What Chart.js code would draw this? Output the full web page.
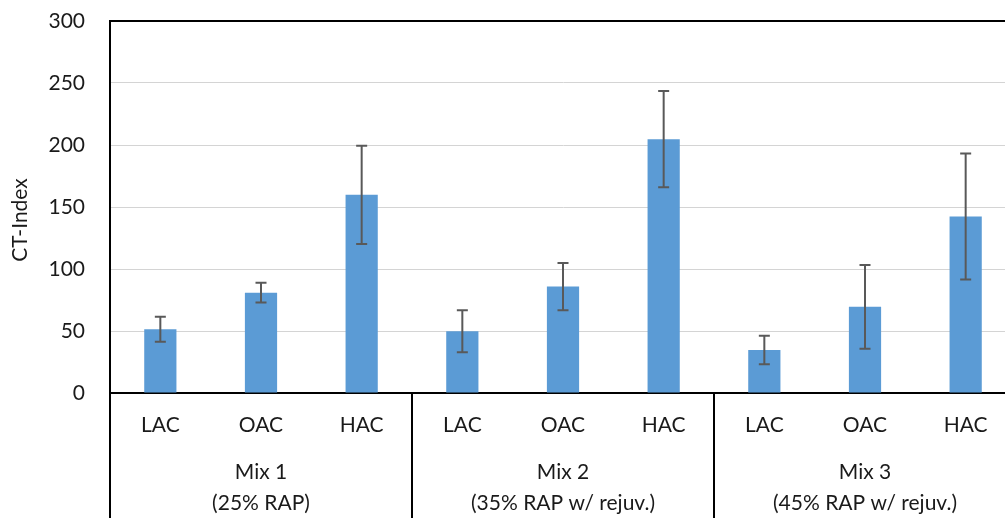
<!DOCTYPE html>
<html>
<head>
<meta charset="utf-8">
<script src="https://cdn.jsdelivr.net/npm/chart.js@4/dist/chart.umd.min.js"></script>
<style>
  html, body { margin: 0; padding: 0; background: #fff; overflow: hidden; }
  #wrap { position: relative; width: 1020px; height: 518px; }
</style>
</head>
<body>
<div id="wrap"><canvas id="ct"></canvas></div>
<script>
// CT-Index per mix / aging level
const mixes = ['LAC', 'OAC', 'HAC', 'LAC', 'OAC', 'HAC', 'LAC', 'OAC', 'HAC'];
const groupLabels = [['Mix 1', '(25% RAP)'], ['Mix 2', '(35% RAP w/ rejuv.)'], ['Mix 3', '(45% RAP w/ rejuv.)']];
const ctIndex = [51.4, 80.9, 159.8, 49.8, 85.8, 204.7, 34.6, 69.5, 142.4];
const ctError = [10, 8, 39.6, 17, 19, 38.8, 11.5, 33.8, 50.8];
const yTicks = [0, 50, 100, 150, 200, 250, 300];

const FONT = 'Lato, "Open Sans", sans-serif';
const TEXT = '#1a1a1a';

// error bars (mean +/- error) drawn through the y scale
const errorBars = {
    id: 'errorBars',
    afterDatasetsDraw(chart) {
        const { ctx, scales: { x, y } } = chart;
        ctx.save();
        ctx.strokeStyle = '#595959';
        ctx.lineWidth = 2;
        ctIndex.forEach((v, i) => {
            const cx = x.getPixelForValue(i);
            const top = y.getPixelForValue(v + ctError[i]);
            const bot = y.getPixelForValue(v - ctError[i]);
            ctx.beginPath();
            ctx.moveTo(cx, top); ctx.lineTo(cx, bot);
            ctx.moveTo(cx - 5.5, top); ctx.lineTo(cx + 5.5, top);
            ctx.moveTo(cx - 5.5, bot); ctx.lineTo(cx + 5.5, bot);
            ctx.stroke();
        });
        ctx.restore();
    }
};

// second category row (mix groups), its dividers and the y title
const groupAxis = {
    id: 'groupAxis',
    afterDraw(chart) {
        const { ctx, chartArea, scales: { x } } = chart;
        const bottom = chart.height;
        ctx.save();
        ctx.strokeStyle = '#000';
        ctx.lineWidth = 2;
        ctx.beginPath();
        ctx.moveTo(chartArea.left, chartArea.bottom);
        ctx.lineTo(chartArea.left, bottom);
        for (let g = 1; g < groupLabels.length; g++) {
            const sx = (x.getPixelForValue(g * 3 - 1) + x.getPixelForValue(g * 3)) / 2;
            ctx.moveTo(sx, chartArea.bottom);
            ctx.lineTo(sx, bottom);
        }
        ctx.stroke();

        ctx.fillStyle = TEXT;
        ctx.font = '21px ' + FONT;
        ctx.textAlign = 'center';
        ctx.textBaseline = 'middle';
        groupLabels.forEach((lines, g) => {
            const gx = x.getPixelForValue(g * 3 + 1);
            lines.forEach((t, k) => ctx.fillText(t, gx, 472 + k * 31));
        });

        ctx.translate(20, 220);
        ctx.rotate(-Math.PI / 2);
        ctx.fillText('CT-Index', 0, 0);
        ctx.restore();
    }
};

new Chart(document.getElementById('ct'), {
    type: 'bar',
    data: {
        labels: mixes,
        datasets: [{
            data: ctIndex,
            backgroundColor: '#5b9bd5',
            borderWidth: 0,
            categoryPercentage: 1,
            barPercentage: 0.32
        }]
    },
    options: {
        responsive: true,
        maintainAspectRatio: false,
        animation: false,
        layout: { padding: { top: 21, right: 4, left: 0, bottom: 0 } },
        plugins: { legend: { display: false }, tooltip: { enabled: false } },
        scales: {
            x: {
                grid: { display: false, drawTicks: false },
                border: { display: true, color: '#000', width: 2 },
                ticks: { color: TEXT, font: { family: FONT, size: 21 }, padding: 20, maxRotation: 0, autoSkip: false },
                afterFit: s => { s.height = 125; s.paddingLeft = 0; s.paddingRight = 0; }
            },
            y: {
                min: 0,
                max: 300,
                afterBuildTicks: s => { s.ticks = yTicks.map(v => ({ value: v })); },
                grid: {
                    drawTicks: false,
                    color: c => c.tick && c.tick.value === 300 ? '#000' : '#d4d4d4',
                    lineWidth: c => c.tick && c.tick.value === 300 ? 2 : 1
                },
                border: { display: true, color: '#000', width: 2 },
                ticks: { color: TEXT, font: { family: FONT, size: 21 }, padding: 25 },
                afterFit: s => { s.width = 110; s.paddingTop = 0; s.paddingBottom = 0; }
            }
        }
    },
    plugins: [errorBars, groupAxis]
});
</script>
</body>
</html>
